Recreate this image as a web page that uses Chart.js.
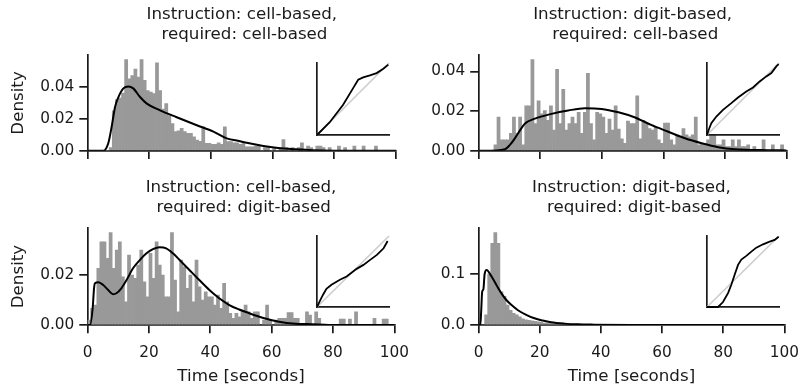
<!DOCTYPE html>
<html>
<head>
<meta charset="utf-8">
<script src="https://cdn.jsdelivr.net/npm/chart.js@4.4.0/dist/chart.umd.min.js"></script>
<style>
  html, body { margin: 0; padding: 0; background: #fff; overflow: hidden; }
  #wrap { position: relative; width: 798px; height: 389px; overflow: hidden; }
  canvas { position: absolute; }
</style>
</head>
<body>
<div id="wrap">
  <canvas id="p1" width="420" height="165" style="left:0px;top:0px"></canvas>
  <canvas id="p2" width="410" height="165" style="left:400px;top:0px"></canvas>
  <canvas id="p3" width="420" height="216" style="left:0px;top:173px"></canvas>
  <canvas id="p4" width="410" height="216" style="left:400px;top:173px"></canvas>
  <canvas id="q1" width="82" height="82" style="left:312px;top:58px"></canvas>
  <canvas id="q2" width="82" height="82" style="left:702px;top:58px"></canvas>
  <canvas id="q3" width="82" height="81" style="left:312px;top:231px"></canvas>
  <canvas id="q4" width="82" height="81" style="left:702px;top:231px"></canvas>
</div>
<script>
// histogramme: une valeur par seconde (bins de 1 s, de 0 à 100)
const binStart = 0;
const binWidth = 1;
const xTicks = [0, 20, 40, 60, 80, 100];

const titles1 = ['Instruction: cell-based,', ' required: cell-based'];
const titles2 = ['Instruction: digit-based,', ' required: cell-based'];
const titles3 = ['Instruction: cell-based,', ' required: digit-based'];
const titles4 = ['Instruction: digit-based,', ' required: digit-based'];

const yTicks1 = [0, 0.02, 0.04];
const yTicks2 = [0, 0.02, 0.04];
const yTicks3 = [0, 0.02];
const yTicks4 = [0, 0.1];

const hist1 = [
  0, 0, 0, 0, 0, 0, 0, 0.002, 0.025, 0.032,
  0.033, 0.036, 0.057, 0.045, 0.047, 0.051, 0.046, 0.057, 0.044, 0.0377,
  0.0367, 0.0357, 0.055, 0.0377, 0.026, 0.0295, 0.022, 0.017, 0.012, 0.0125,
  0.014, 0.012, 0.011, 0.011, 0.0088, 0.0067, 0.006, 0.015, 0.0047, 0.0047,
  0.004, 0.004, 0.005, 0.004, 0.015, 0.0057, 0.0057, 0.005, 0.005, 0.004,
  0.0045, 0.0025, 0.0025, 0.0025, 0.003, 0.003, 0, 0.002, 0.002, 0,
  0.002, 0, 0.002, 0.007, 0.002, 0, 0.002, 0, 0.002, 0.005,
  0, 0.003, 0.002, 0, 0.003, 0.003, 0.002, 0, 0.002, 0,
  0, 0.003, 0, 0.002, 0, 0, 0.003, 0, 0, 0.003,
  0, 0, 0, 0.003, 0, 0, 0, 0, 0, 0
];
const hist2 = [
  0, 0, 0, 0, 0, 0.003, 0.017, 0.0055, 0.0055, 0.0055,
  0.0088, 0.017, 0.0088, 0.017, 0.003, 0.0227, 0.0227, 0.0459, 0.0137, 0.0252,
  0.0186, 0.0203, 0.0153, 0.0227, 0.0104, 0.041, 0.0137, 0.031, 0.0104, 0.0137,
  0.017, 0.0137, 0.0194, 0.0088, 0.0194, 0.039, 0.0137, 0.0055, 0.0194, 0.0186,
  0.017, 0.0088, 0.016, 0.0104, 0.0227, 0.011, 0.006, 0.0038, 0.015, 0.0137,
  0.0137, 0.0277, 0.006, 0.0153, 0.0137, 0.0112, 0.0104, 0.012, 0.0055, 0.0038,
  0.014, 0.014, 0.0055, 0.003, 0.008, 0.0071, 0.0112, 0.008, 0.0071, 0.008,
  0.017, 0.003, 0.0038, 0.0038, 0.0055, 0.008, 0.008, 0.003, 0.003, 0.0055,
  0.0021, 0.0021, 0.0055, 0.0021, 0.0055, 0.0021, 0.0021, 0.003, 0, 0.0021,
  0, 0, 0.0055, 0, 0, 0.003, 0, 0, 0.003, 0
];
const hist3 = [
  0.002, 0.0067, 0.008, 0.0227, 0.0333, 0.0333, 0.0267, 0.037, 0.0227, 0.030,
  0.0333, 0.0193, 0.0093, 0.028, 0.020, 0.0187, 0.024, 0.030, 0.0173, 0.0113,
  0.0287, 0.0187, 0.0333, 0.024, 0.020, 0.0113, 0.0113, 0.037, 0.018, 0.0053,
  0.026, 0.0233, 0.0147, 0.020, 0.0093, 0.026, 0.0153, 0.010, 0.0133, 0.0113,
  0.0113, 0.008, 0.012, 0.0067, 0.0167, 0.0093, 0.0047, 0.0027, 0.0047, 0.0033,
  0.0053, 0.008, 0.0053, 0.0027, 0.0053, 0.0053, 0, 0.002, 0.008, 0.002,
  0, 0.002, 0.0027, 0.0027, 0.0027, 0.005, 0.005, 0.0027, 0.0027, 0,
  0, 0.0053, 0.004, 0, 0.0053, 0.0027, 0, 0, 0, 0,
  0, 0, 0.0024, 0.0024, 0, 0.0024, 0, 0.0053, 0, 0,
  0, 0, 0, 0.0027, 0, 0, 0.0024, 0.0024, 0, 0
];
const hist4 = [
  0, 0, 0.02, 0.1, 0.16, 0.181, 0.16, 0.065, 0.056, 0.039,
  0.029, 0.023, 0.020, 0.016, 0.012, 0.010, 0.009, 0.008, 0.007, 0.006,
  0.005, 0.004, 0.004, 0.003, 0.003, 0.002, 0.002, 0.0015, 0.0015, 0.001,
  0.001, 0.001, 0.002, 0, 0, 0, 0, 0, 0, 0,
  0, 0, 0, 0, 0, 0, 0, 0, 0, 0,
  0, 0, 0, 0, 0, 0, 0, 0, 0, 0,
  0, 0, 0, 0, 0, 0, 0, 0, 0, 0,
  0, 0, 0, 0, 0, 0, 0, 0, 0, 0,
  0, 0, 0, 0, 0, 0, 0, 0, 0, 0,
  0, 0, 0, 0, 0, 0, 0, 0, 0, 0
];

// courbes de densité
const kdeT1 = [0, 5.1, 6.7, 7.8, 8.9, 10.0, 11.6, 13.2, 14.8, 17.0, 19.2, 23.5, 28.9, 35.4, 40.8, 45.1, 49.4, 51.6, 57.0, 62.4, 67.8, 73.0, 80, 100];
const kdeD1 = [0, 0, 0.0047, 0.015, 0.0274, 0.0336, 0.039, 0.0402, 0.039, 0.0336, 0.0295, 0.0253, 0.021, 0.016, 0.012, 0.0078, 0.006, 0.005, 0.003, 0.0016, 0.001, 0.0004, 0.0001, 0];
const kdeT2 = [0, 2.1, 8.6, 10.2, 11.8, 13.5, 15.1, 18.3, 23.7, 29.1, 34.5, 39.9, 45.4, 50.8, 56.2, 61.6, 67.0, 72.4, 77.8, 83.2, 94, 100];
const kdeD2 = [0, 0, 0.0008, 0.003, 0.0063, 0.0104, 0.0137, 0.0162, 0.0186, 0.0203, 0.0214, 0.0211, 0.0194, 0.0168, 0.0129, 0.0096, 0.0063, 0.0038, 0.0018, 0.0008, 0.0003, 0.0002];
const kdeT3 = [0, 0.8, 1.65, 2.1, 2.4, 3.5, 5.1, 6.7, 8.3, 9.4, 11.0, 12.7, 14.8, 17.0, 19.2, 21.3, 23.5, 25.6, 27.8, 30.0, 33.2, 36.4, 39.7, 42.9, 46.2, 49.4, 51.6, 57, 62.4, 67.8, 73.2, 78.6, 100];
const kdeD3 = [0, 0, 0.0067, 0.0147, 0.0167, 0.0171, 0.016, 0.014, 0.0123, 0.0127, 0.0147, 0.018, 0.0227, 0.026, 0.0287, 0.0304, 0.0311, 0.0307, 0.0287, 0.026, 0.022, 0.018, 0.014, 0.0107, 0.008, 0.0062, 0.0052, 0.0029, 0.0013, 0.0005, 0.0003, 0, 0];
const kdeT4 = [0, 0.6, 0.9, 1.2, 1.6, 2.0, 2.65, 4.27, 5.9, 7.5, 9.1, 10.8, 12.9, 15.6, 18.3, 21.0, 23.7, 28.1, 32.4, 37.8, 50, 100];
const kdeD4 = [0, 0, 0.03, 0.065, 0.07, 0.1, 0.108, 0.095, 0.078, 0.062, 0.049, 0.039, 0.029, 0.02, 0.0131, 0.0087, 0.0054, 0.0027, 0.0013, 0.0007, 0.0002, 0];

// petits graphes P-P en encart
const diagU = [0, 1];
const diagV = [0, 1];
const pp1U = [0, 0.177, 0.363, 0.502, 0.572, 0.642, 0.735, 0.828, 0.921, 0.991];
const pp1V = [0, 0.177, 0.419, 0.651, 0.767, 0.8, 0.828, 0.86, 0.921, 0.977];
const pp2U = [0, 0.023, 0.06, 0.13, 0.222, 0.338, 0.431, 0.546, 0.639, 0.731, 0.824, 0.894, 0.963, 0.995];
const pp2V = [0, 0.07, 0.163, 0.256, 0.349, 0.442, 0.521, 0.605, 0.66, 0.744, 0.814, 0.86, 0.953, 0.986];
const pp3U = [0, 0.037, 0.084, 0.131, 0.201, 0.318, 0.411, 0.551, 0.645, 0.738, 0.832, 0.925, 0.981];
const pp3V = [0, 0.079, 0.173, 0.257, 0.313, 0.383, 0.43, 0.537, 0.593, 0.664, 0.734, 0.827, 0.93];
const pp4U = [0, 0.153, 0.176, 0.222, 0.292, 0.338, 0.384, 0.431, 0.477, 0.546, 0.616, 0.685, 0.778, 0.87, 0.94, 0.995];
const pp4V = [0, 0, 0.023, 0.07, 0.196, 0.313, 0.453, 0.593, 0.668, 0.72, 0.78, 0.836, 0.883, 0.92, 0.944, 0.99];

const family = 'DejaVu Sans';
const txt = '#1a1a1a';
const axisColor = '#1a1a1a';
const barColor = '#999999';

const toPoints = (xs, ys) => xs.map((x, i) => ({ x: x, y: ys[i] }));

// un panneau principal: histogramme + densité
const mainChart = (id, o) => new Chart(document.getElementById(id), {
    type: 'bar',
    data: {
        datasets: [{
            type: 'line',
            data: toPoints(o.kdeT, o.kdeD),
            borderColor: '#000',
            borderWidth: 2,
            pointRadius: 0,
            cubicInterpolationMode: 'monotone',
            order: 0
        }, {
            type: 'bar',
            data: o.hist.map((v, i) => ({ x: binStart + (i + 0.5) * binWidth, y: v })),
            backgroundColor: barColor,
            borderWidth: 0,
            barPercentage: 1,
            categoryPercentage: 1,
            order: 1
        }]
    },
    options: {
        responsive: false,
        animation: false,
        devicePixelRatio: 1,
        events: [],
        layout: { padding: { left: 0, right: o.padR, top: 0, bottom: 0 } },
        plugins: {
            legend: { display: false },
            tooltip: { enabled: false },
            title: {
                display: true,
                text: o.title,
                fullSize: false,
                color: txt,
                font: { family: family, size: 16.7, weight: 'normal', lineHeight: 1.2 },
                padding: { top: 5, bottom: 10 }
            }
        },
        scales: {
            x: {
                type: 'linear',
                min: 0,
                max: 100,
                offset: false,
                afterBuildTicks: s => { s.ticks = xTicks.map(v => ({ value: v })); },
                afterFit: s => { s.height = o.xH; },
                grid: { display: true, offset: false, drawOnChartArea: false, drawTicks: true, tickLength: 8.3, lineWidth: 1.7, tickWidth: 1.7, color: axisColor },
                border: { display: true, color: axisColor, width: 1.7 },
                ticks: { display: o.xLabels, autoSkip: false, maxRotation: 0, padding: 11, color: txt, font: { family: family, size: 15.3 }, callback: v => String(v) },
                title: { display: o.xLabels, text: 'Time [seconds]', color: txt, font: { family: family, size: 16.7 }, padding: { top: 0, bottom: 2 } }
            },
            y: {
                min: 0,
                max: o.yMax,
                afterBuildTicks: s => { s.ticks = o.yTicks.map(v => ({ value: v })); },
                afterFit: s => { s.width = o.yW; },
                grid: { display: true, drawOnChartArea: false, drawTicks: true, tickLength: 8.3, lineWidth: 1.7, tickWidth: 1.7, color: axisColor },
                border: { display: true, color: axisColor, width: 1.7 },
                ticks: { autoSkip: false, padding: 5, color: txt, font: { family: family, size: 15.3 }, callback: v => v.toFixed(o.yDec) },
                title: { display: o.yTitle, text: 'Density', color: txt, font: { family: family, size: 16.7 }, padding: { top: 9, bottom: 0 } }
            }
        }
    }
});

// encart P-P
const insetChart = (id, u, v) => new Chart(document.getElementById(id), {
    type: 'line',
    data: {
        datasets: [{
            data: toPoints(u, v),
            borderColor: '#000',
            borderWidth: 1.8,
            pointRadius: 0,
            tension: 0,
            clip: false,
            order: 0
        }, {
            data: toPoints(diagU, diagV),
            borderColor: '#cccccc',
            borderWidth: 1.6,
            pointRadius: 0,
            clip: false,
            order: 1
        }]
    },
    options: {
        responsive: false,
        animation: false,
        devicePixelRatio: 1,
        events: [],
        layout: { padding: 5 },
        plugins: { legend: { display: false }, tooltip: { enabled: false } },
        scales: {
            x: {
                type: 'linear', min: 0, max: 1,
                afterFit: s => { s.height = 0; },
                grid: { display: true, drawOnChartArea: false, drawTicks: false },
                border: { display: true, color: axisColor, width: 1.7 },
                ticks: { display: false }
            },
            y: {
                type: 'linear', min: 0, max: 1,
                afterFit: s => { s.width = 0; },
                grid: { display: true, drawOnChartArea: false, drawTicks: false },
                border: { display: true, color: axisColor, width: 1.7 },
                ticks: { display: false }
            }
        }
    }
});

mainChart('p1', { title: titles1, hist: hist1, kdeT: kdeT1, kdeD: kdeD1, yMax: 0.0598, yTicks: yTicks1, yDec: 2, yW: 87.6, xH: 12.5, padR: 24, xLabels: false, yTitle: true });
mainChart('p2', { title: titles2, hist: hist2, kdeT: kdeT2, kdeD: kdeD2, yMax: 0.0482, yTicks: yTicks2, yDec: 2, yW: 78.5, xH: 12.5, padR: 23.3, xLabels: false, yTitle: false });
mainChart('p3', { title: titles3, hist: hist3, kdeT: kdeT3, kdeD: kdeD3, yMax: 0.0388, yTicks: yTicks3, yDec: 2, yW: 87.6, xH: 64, padR: 24, xLabels: true, yTitle: true });
mainChart('p4', { title: titles4, hist: hist4, kdeT: kdeT4, kdeD: kdeD4, yMax: 0.19, yTicks: yTicks4, yDec: 1, yW: 78.5, xH: 64, padR: 23.3, xLabels: true, yTitle: false });

insetChart('q1', pp1U, pp1V);
insetChart('q2', pp2U, pp2V);
insetChart('q3', pp3U, pp3V);
insetChart('q4', pp4U, pp4V);
</script>
</body>
</html>
